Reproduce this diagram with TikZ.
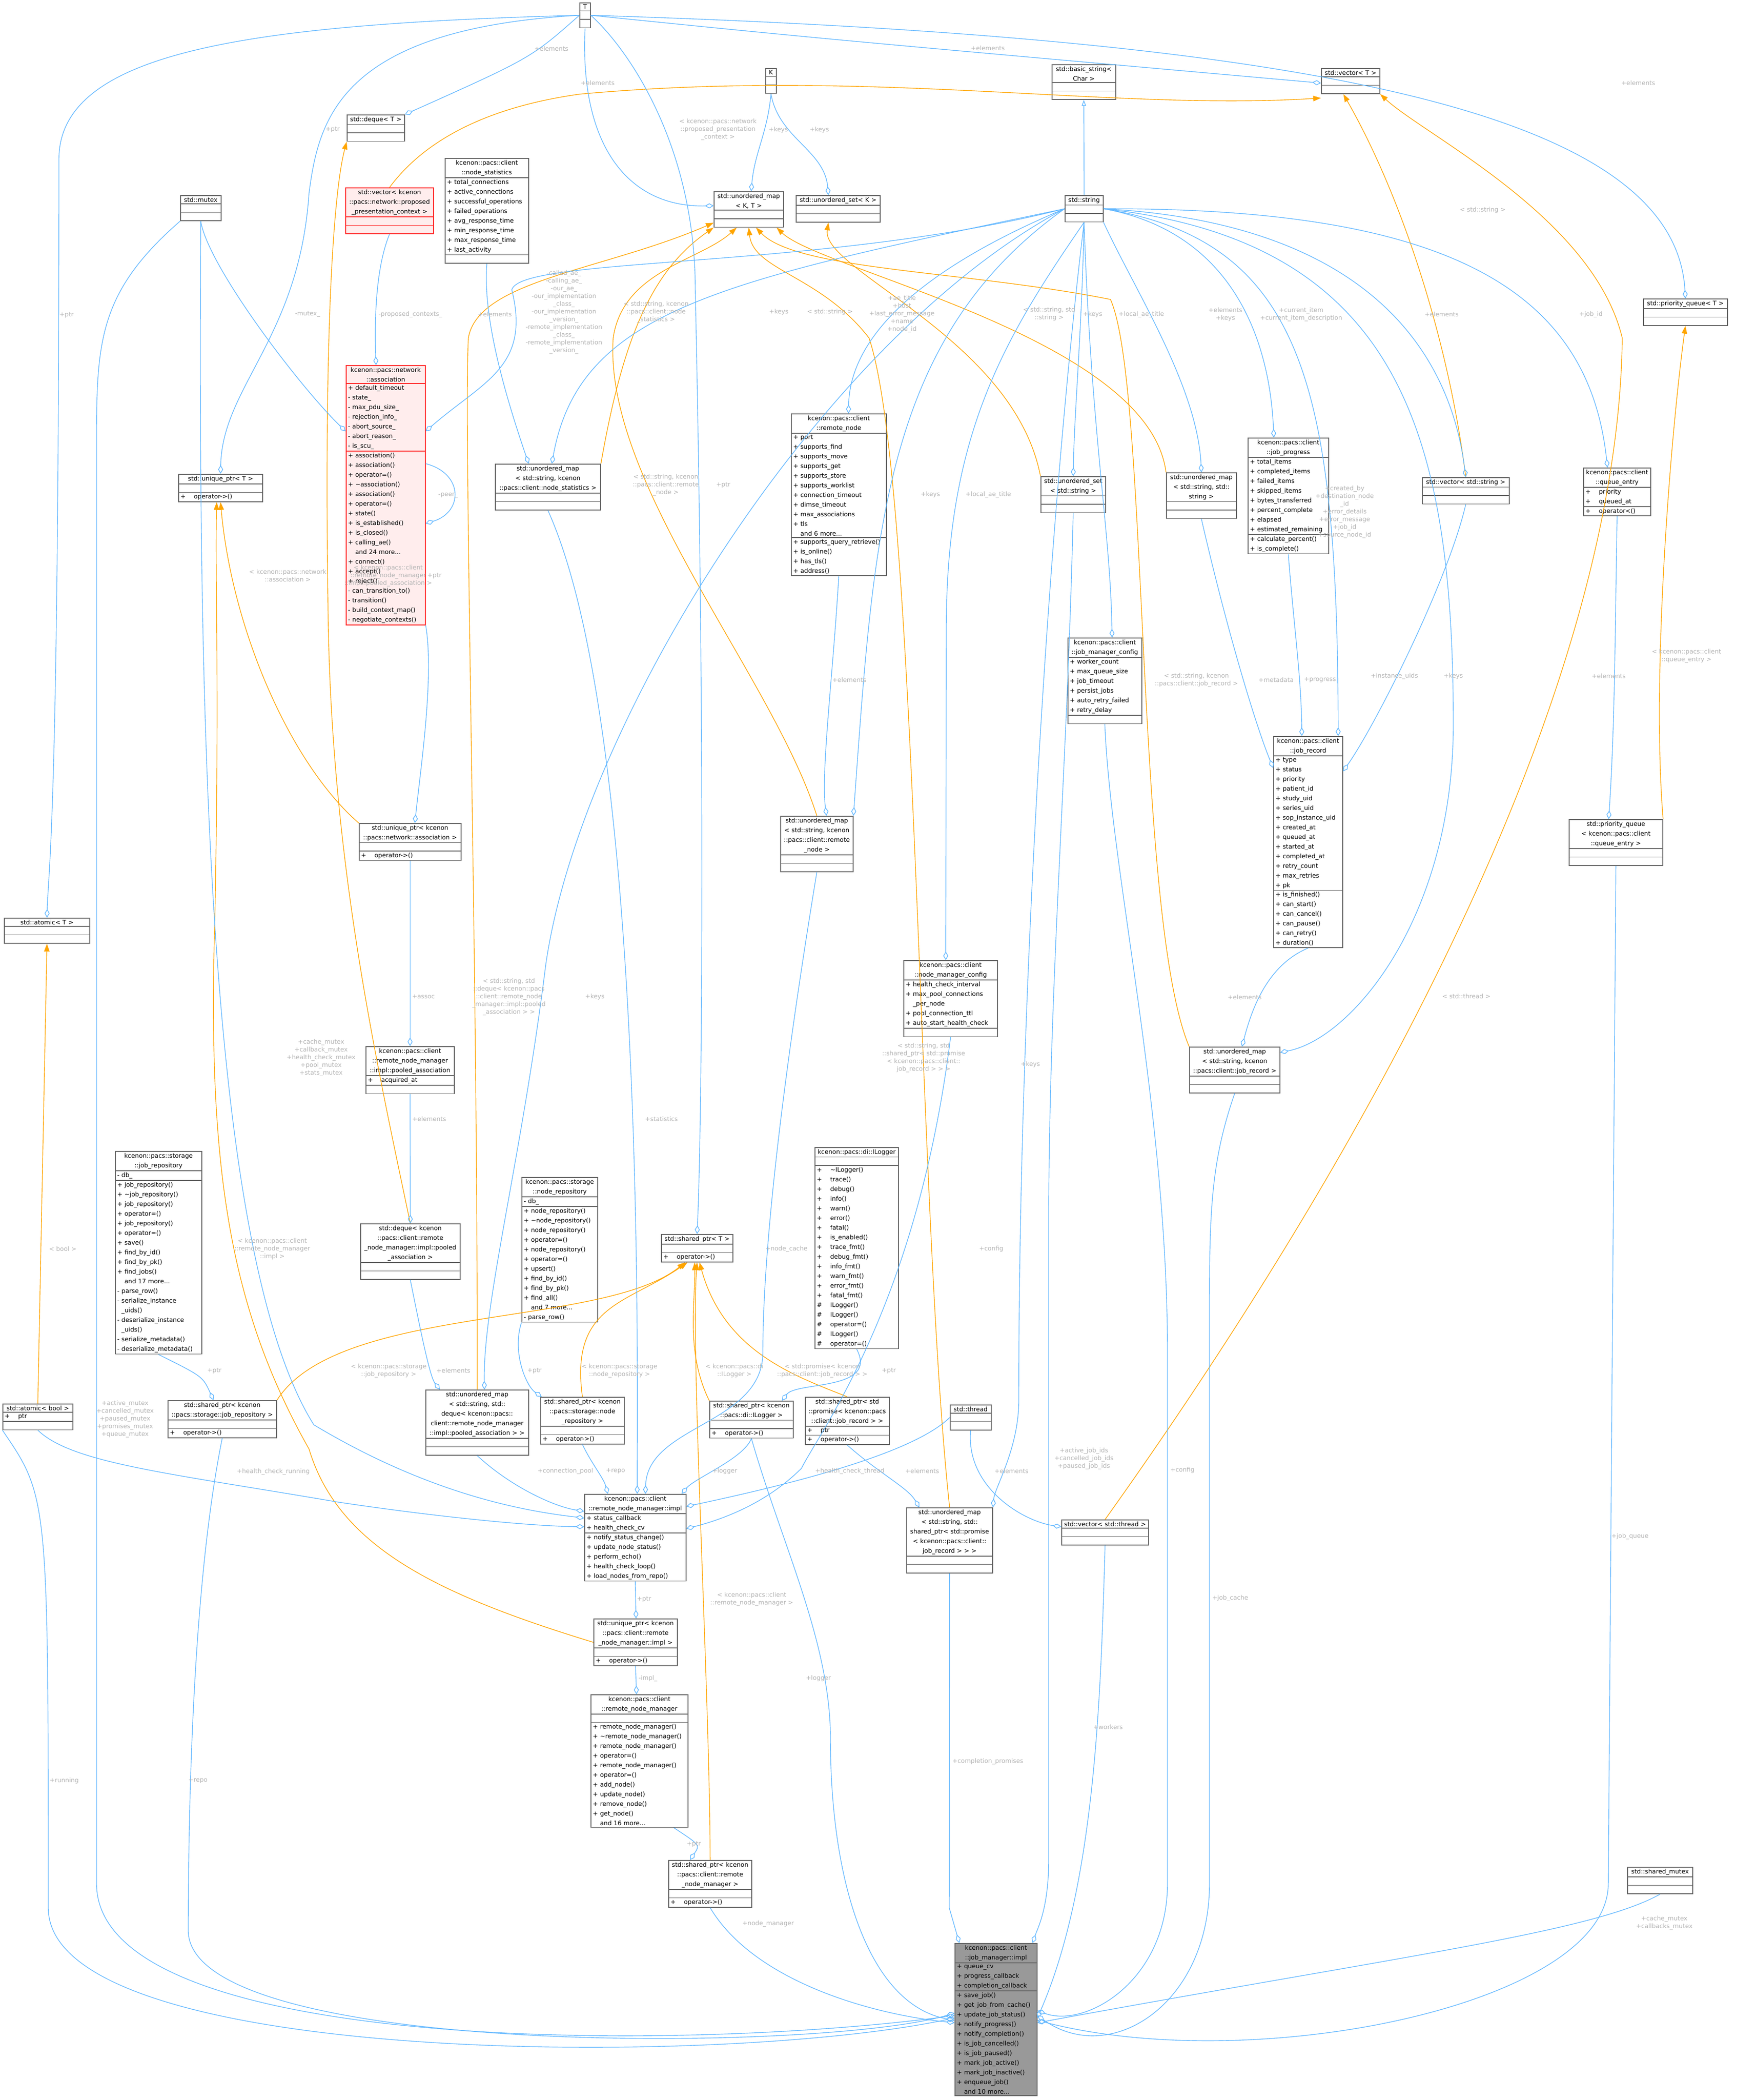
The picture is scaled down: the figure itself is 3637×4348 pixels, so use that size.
\documentclass[tikz,border=0pt]{standalone}
\usepackage{fontspec}
\setmainfont{DejaVu Sans}
\usetikzlibrary{calc,arrows.meta,shapes.multipart}
\definecolor{edgeblue}{HTML}{63B8FF}
\definecolor{edgeorange}{HTML}{FFA500}
\definecolor{boxgray}{HTML}{666666}
\definecolor{lblgray}{HTML}{B4B4B4}
\newcommand\E{\rule{0pt}{2.6pt}}
\newcommand\cls[8][]{\node[cls,#1,text width=\dimexpr #5pt/4 - 2pt\relax,minimum width=#5pt/4] (#2) at (#3,#4) {\centering #6\par\nodepart{two}#7\nodepart{three}#8};}
\tikzset{
 cls/.style={draw=boxgray,fill=white,rectangle split,rectangle split parts=3,anchor=north west,
   font=\fontsize{3.2}{5}\selectfont,inner xsep=1pt,inner ysep=0.7pt,align=left,line width=0.4pt},
 red/.style={draw=red!85!white,fill=red!7},
 dark/.style={fill=gray!80},
 mem/.style={draw=edgeblue,line width=0.35pt,-{Diamond[open,length=4.5pt,width=2.6pt]}},
 tmpl/.style={draw=edgeorange,line width=0.35pt,-{Triangle[length=4pt,width=2.8pt]}},
 inh/.style={draw=edgeblue,line width=0.35pt,-{Triangle[open,length=3pt,width=2.2pt]}},
 lbl/.style={font=\fontsize{3.2}{4}\selectfont,text=lblgray,align=center,inner sep=0pt}
}
\begin{document}
\begin{tikzpicture}[x=0.25pt,y=-0.25pt]
\useasboundingbox[fill=white] (0,0) rectangle (3637,4348);
% ---------------- nodes ----------------
\cls{NT}{1200}{5}{22}{T}{\E}{\E}
\cls{NK}{1585}{141}{22}{K}{\E}{\E}
\cls{dequeT}{718}{237}{119}{std::deque< T >}{\E}{\E}
\cls[red]{vecppc}{715}{388}{182}{std::vector< kcenon\\::pacs::network::proposed\\\_presentation\_context >}{\E}{\E}
\cls{nstat}{921}{327}{173}{kcenon::pacs::client\\::node\_statistics}{+ total\_connections\\+ active\_connections\\+ successful\_operations\\+ failed\_operations\\+ avg\_response\_time\\+ min\_response\_time\\+ max\_response\_time\\+ last\_activity}{\E}
\cls{mutex}{373}{404}{84}{std::mutex}{\E}{\E}
\cls{umapKT}{1478}{396}{144}{std::unordered\_map\\< K, T >}{\E}{\E}
\cls{usetK}{1648}{404}{174}{std::unordered\_set< K >}{\E}{\E}
\cls{bstring}{2178}{133}{132}{std::basic\_string<\\ Char >}{\E}{\E}
\cls{vecT}{2736}{141}{121}{std::vector< T >}{\E}{\E}
\cls{string}{2205}{404}{79}{std::string}{\E}{\E}
\cls{pqT}{3403}{618}{174}{std::priority\_queue< T >}{\E}{\E}
\cls[red]{assoc}{716}{756}{164}{kcenon::pacs::network\\::association}{+ default\_timeout\\- state\_\\- max\_pdu\_size\_\\- rejection\_info\_\\- abort\_source\_\\- abort\_reason\_\\- is\_scu\_}{+ association()\\+ association()\\+ operator=()\\+ \textasciitilde association()\\+ association()\\+ operator=()\\+ state()\\+ is\_established()\\+ is\_closed()\\+ calling\_ae()\\\phantom{+} and 24 more...\\+ connect()\\+ accept()\\+ reject()\\- can\_transition\_to()\\- transition()\\- build\_context\_map()\\- negotiate\_contexts()}
\cls{uptrT}{369}{981}{174}{std::unique\_ptr< T >}{\E}{+ \quad operator->()}
\cls{umapNS}{1025}{960}{218}{std::unordered\_map\\< std::string, kcenon\\::pacs::client::node\_statistics >}{\E}{\E}
\cls{rnode}{1638}{856}{197}{kcenon::pacs::client\\::remote\_node}{+ port\\+ supports\_find\\+ supports\_move\\+ supports\_get\\+ supports\_store\\+ supports\_worklist\\+ connection\_timeout\\+ dimse\_timeout\\+ max\_associations\\+ tls\\\phantom{+} and 6 more...}{+ supports\_query\_retrieve()\\+ is\_online()\\+ has\_tls()\\+ address()}
\cls{usetS}{2155}{986}{134}{std::unordered\_set\\< std::string >}{\E}{\E}
\cls{umapSS}{2415}{978}{145}{std::unordered\_map\\< std::string, std::\\string >}{\E}{\E}
\cls{jprog}{2584}{906}{167}{kcenon::pacs::client\\::job\_progress}{+ total\_items\\+ completed\_items\\+ failed\_items\\+ skipped\_items\\+ bytes\_transferred\\+ percent\_complete\\+ elapsed\\+ estimated\_remaining}{+ calculate\_percent()\\+ is\_complete()}
\cls{vecS}{2945}{988}{180}{std::vector< std::string >}{\E}{\E}
\cls{qentry}{3279}{968}{139}{kcenon::pacs::client\\::queue\_entry}{+ \quad priority\\+ \quad queued\_at}{+ \quad operator<()}
\cls{jmconf}{2211}{1320}{153}{kcenon::pacs::client\\::job\_manager\_config}{+ worker\_count\\+ max\_queue\_size\\+ job\_timeout\\+ persist\_jobs\\+ auto\_retry\_failed\\+ retry\_delay}{\E}
\cls{jrec}{2637}{1524}{143}{kcenon::pacs::client\\::job\_record}{+ type\\+ status\\+ priority\\+ patient\_id\\+ study\_uid\\+ series\_uid\\+ sop\_instance\_uid\\+ created\_at\\+ queued\_at\\+ started\_at\\+ completed\_at\\+ retry\_count\\+ max\_retries\\+ pk}{+ is\_finished()\\+ can\_start()\\+ can\_cancel()\\+ can\_pause()\\+ can\_retry()\\+ duration()}
\cls{pqQE}{3249}{1696}{194}{std::priority\_queue\\< kcenon::pacs::client\\::queue\_entry >}{\E}{\E}
\cls{uptrA}{743}{1704}{211}{std::unique\_ptr< kcenon\\::pacs::network::association >}{\E}{+ \quad operator->()}
\cls{umapRN}{1616}{1689}{150}{std::unordered\_map\\< std::string, kcenon\\::pacs::client::remote\\\_node >}{\E}{\E}
\cls{nmconf}{1871}{1988}{194}{kcenon::pacs::client\\::node\_manager\_config}{+ health\_check\_interval\\+ max\_pool\_connections\\\phantom{+ }\_per\_node\\+ pool\_connection\_ttl\\+ auto\_start\_health\_check}{\E}
\cls{pooled}{757}{2166}{183}{kcenon::pacs::client\\::remote\_node\_manager\\::impl::pooled\_association}{+ \quad acquired\_at}{\E}
\cls{umapJR}{2463}{2167}{187}{std::unordered\_map\\< std::string, kcenon\\::pacs::client::job\_record >}{\E}{\E}
\cls{atomicT}{8}{1900}{177}{std::atomic< T >}{\E}{\E}
\cls{jrepo}{238}{2383}{179}{kcenon::pacs::storage\\::job\_repository}{- db\_}{+ job\_repository()\\+ \textasciitilde job\_repository()\\+ job\_repository()\\+ operator=()\\+ job\_repository()\\+ operator=()\\+ save()\\+ find\_by\_id()\\+ find\_by\_pk()\\+ find\_jobs()\\\phantom{+} and 17 more...\\- parse\_row()\\- serialize\_instance\\\phantom{- }\_uids()\\- deserialize\_instance\\\phantom{- }\_uids()\\- serialize\_metadata()\\- deserialize\_metadata()}
\cls{nrepo}{1080}{2437}{157}{kcenon::pacs::storage\\::node\_repository}{- db\_}{+ node\_repository()\\+ \textasciitilde node\_repository()\\+ node\_repository()\\+ operator=()\\+ node\_repository()\\+ operator=()\\+ upsert()\\+ find\_by\_id()\\+ find\_by\_pk()\\+ find\_all()\\\phantom{+} and 7 more...\\- parse\_row()}
\cls{dequeP}{746}{2533}{206}{std::deque< kcenon\\::pacs::client::remote\\\_node\_manager::impl::pooled\\\_association >}{\E}{\E}
\cls{ILogger}{1687}{2375}{173}{kcenon::pacs::di::ILogger}{\E}{+ \quad \textasciitilde ILogger()\\+ \quad trace()\\+ \quad debug()\\+ \quad info()\\+ \quad warn()\\+ \quad error()\\+ \quad fatal()\\+ \quad is\_enabled()\\+ \quad trace\_fmt()\\+ \quad debug\_fmt()\\+ \quad info\_fmt()\\+ \quad warn\_fmt()\\+ \quad error\_fmt()\\+ \quad fatal\_fmt()\\\# \quad ILogger()\\\# \quad ILogger()\\\# \quad operator=()\\\# \quad ILogger()\\\# \quad operator=()}
\cls{sptrT}{1369}{2555}{148}{std::shared\_ptr< T >}{\E}{+ \quad operator->()}
\cls{umapDQ}{881}{2877}{213}{std::unordered\_map\\< std::string, std::\\deque< kcenon::pacs::\\client::remote\_node\_manager\\::impl::pooled\_association > >}{\E}{\E}
\cls{sptrNR}{1119}{2892}{173}{std::shared\_ptr< kcenon\\::pacs::storage::node\\\_repository >}{\E}{+ \quad operator->()}
\cls{sptrJR}{347}{2899}{225}{std::shared\_ptr< kcenon\\::pacs::storage::job\_repository >}{\E}{+ \quad operator->()}
\cls{atomicB}{5}{2906}{145}{std::atomic< bool >}{+ \quad ptr}{\E}
\cls{sptrIL}{1469}{2900}{173}{std::shared\_ptr< kcenon\\::pacs::di::ILogger >}{\E}{+ \quad operator->()}
\cls{sptrPR}{1667}{2892}{174}{std::shared\_ptr< std\\::promise< kcenon::pacs\\::client::job\_record > >}{+ \quad ptr}{+ \quad operator->()}
\cls{thread}{1967}{2908}{85}{std::thread}{\E}{\E}
\cls{rnmimpl}{1210}{3093}{210}{kcenon::pacs::client\\::remote\_node\_manager::impl}{+ status\_callback\\+ health\_check\_cv}{+ notify\_status\_change()\\+ update\_node\_status()\\+ perform\_echo()\\+ health\_check\_loop()\\+ load\_nodes\_from\_repo()}
\cls{umapPR}{1877}{3121}{178}{std::unordered\_map\\< std::string, std::\\shared\_ptr< std::promise\\< kcenon::pacs::client::\\job\_record > > >}{\E}{\E}
\cls{vecTh}{2198}{3146}{180}{std::vector< std::thread >}{\E}{\E}
\cls{uptrI}{1229}{3351}{173}{std::unique\_ptr< kcenon\\::pacs::client::remote\\\_node\_manager::impl >}{\E}{+ \quad operator->()}
\cls{rnm}{1223}{3508}{201}{kcenon::pacs::client\\::remote\_node\_manager}{\E}{+ remote\_node\_manager()\\+ \textasciitilde remote\_node\_manager()\\+ remote\_node\_manager()\\+ operator=()\\+ remote\_node\_manager()\\+ operator=()\\+ add\_node()\\+ update\_node()\\+ remove\_node()\\+ get\_node()\\\phantom{+} and 16 more...}
\cls{sptrRNM}{1384}{3851}{172}{std::shared\_ptr< kcenon\\::pacs::client::remote\\\_node\_manager >}{\E}{+ \quad operator->()}
\cls{shmutex}{3370}{3865}{135}{std::shared\_mutex}{\E}{\E}
\cls[dark]{jmimpl}{1977}{4023}{170}{kcenon::pacs::client\\::job\_manager::impl}{+ queue\_cv\\+ progress\_callback\\+ completion\_callback}{+ save\_job()\\+ get\_job\_from\_cache()\\+ update\_job\_status()\\+ notify\_progress()\\+ notify\_completion()\\+ is\_job\_cancelled()\\+ is\_job\_paused()\\+ mark\_job\_active()\\+ mark\_job\_inactive()\\+ enqueue\_job()\\\phantom{+} and 10 more...}
% ---------------- orange template edges ----------------
\draw[tmpl] (vecppc.north) .. controls (850,330) and (950,230) .. (1200,195) .. controls (1800,140) and (2300,230) .. ($(vecT.north west)+(0,62)$);
\draw[tmpl] (vecS.north) .. controls (3000,700) and (2900,400) .. ($(vecT.south)+(-15,0)$);
\draw[tmpl] (vecTh.north) .. controls (2750,2500) and (3350,1500) .. (3360,700) .. controls (3300,450) and (2950,280) .. (vecT.south east);
\draw[tmpl] (dequeP.north) .. controls (780,2200) and (690,1800) .. (680,1300) .. controls (670,700) and (690,400) .. (dequeT.south west);
\draw[tmpl] (uptrA.north west) .. controls (600,1580) and (480,1300) .. (uptrT.south);
\draw[tmpl] (uptrI.west) .. controls (900,3300) and (700,3200) .. (640,3000) .. controls (470,2700) and (430,2400) .. (445,1900) .. controls (455,1400) and (445,1200) .. ($(uptrT.south)+(-8,0)$);
\draw[tmpl] (atomicB.north) -- (atomicT.south);
\draw[tmpl] (umapNS.north east) .. controls (1290,700) and (1350,560) .. (umapKT.south west);
\draw[tmpl] (umapRN.north) .. controls (1600,1400) and (1250,1000) .. (1270,700) .. controls (1290,560) and (1450,540) .. ($(umapKT.south)+(-25,0)$);
\draw[tmpl] (umapDQ.north) .. controls (990,2000) and (960,900) .. (970,700) .. controls (990,580) and (1250,560) .. ($(umapKT.south west)+(0,-10)$);
\draw[tmpl] (umapSS.north west) .. controls (2380,700) and (1700,560) .. ($(umapKT.south east)+(-15,0)$);
\draw[tmpl] (umapJR.north west) .. controls (2350,1900) and (2380,800) .. (2300,620) .. controls (2000,560) and (1650,560) .. ($(umapKT.south)+(15,0)$);
\draw[tmpl] (umapPR.north) .. controls (1900,2500) and (1900,1000) .. (1800,700) .. controls (1700,570) and (1560,560) .. (umapKT.south);
\draw[tmpl] (usetS.north west) .. controls (2100,700) and (1700,560) .. ($(usetK.south)+(-20,0)$);
\draw[tmpl] (pqQE.north east) .. controls (3420,1400) and (3460,900) .. (pqT.south);
\draw[tmpl] (sptrJR.north east) .. controls (700,2700) and (1250,2750) .. ($(sptrT.south)+(-25,0)$);
\draw[tmpl] (sptrNR.north) .. controls (1180,2700) and (1300,2700) .. ($(sptrT.south)+(-20,0)$);
\draw[tmpl] (sptrIL.north west) .. controls (1420,2800) and (1440,2700) .. ($(sptrT.south)+(-5,0)$);
\draw[tmpl] (sptrPR.north) .. controls (1650,2850) and (1500,2800) .. ($(sptrT.south)+(5,0)$);
\draw[tmpl] (sptrRNM.north) .. controls (1470,3500) and (1430,2800) .. (sptrT.south);
% ---------------- blue member edges ----------------
\draw[inh] (string.north) -- (bstring.south);
\draw[mem] (NT.west) .. controls (1100,120) .. (dequeT.north east);
\draw[mem] (NT.west) .. controls (700,60) and (660,250) .. (640,400) .. controls (620,700) and (460,800) .. (uptrT.north);
\draw[mem] (NT.west) .. controls (500,50) and (122,110) .. (122,330) .. controls (122,1700) and (100,1800) .. (atomicT.north);
\draw[mem] (NT.south) .. controls (1200,300) and (1300,430) .. ($(umapKT.north west)+(0,30)$);
\draw[mem] (NT.east) .. controls (1300,100) and (1440,300) .. (1440,600) .. controls (1460,1500) and (1455,2300) .. (sptrT.north);
\draw[mem] (NT.east) .. controls (1700,80) .. ($(vecT.north west)+(0,31)$);
\draw[mem] (NT.east) .. controls (2800,80) and (3470,250) .. (pqT.north);
\draw[mem] (NK.south) to[out=-95,in=85] ($(umapKT.north)+(5,0)$);
\draw[mem] (NK.south) to[out=-80,in=95] ($(usetK.north)+(-20,0)$);
\draw[mem] (mutex.south) .. controls (430,550) and (620,800) .. ($(assoc.north west)+(0,137)$);
\draw[mem] (mutex.south) .. controls (410,1500) and (430,2600) .. (650,2950) .. controls (900,3100) and (1100,3130) .. ($(rnmimpl.north west)+(0,50)$);
\draw[mem] (mutex.south west) .. controls (210,600) and (200,700) .. (200,900) -- (200,3900) .. controls (200,4250) and (1400,4250) .. ($(jmimpl.north west)+(0,150)$);
\draw[mem] (vecppc.south) .. controls (780,550) and (775,650) .. ($(assoc.north)+(-20,0)$);
\draw[mem] (string.west) .. controls (1700,560) and (1080,530) .. (1060,600) .. controls (1100,760) and (1000,790) .. ($(assoc.north east)+(0,137)$);
\draw[mem] ($(assoc.north east)+(0,204)$) .. controls (960,980) and (960,1060) .. ($(assoc.north east)+(0,328)$);
\draw[mem] (assoc.south east) .. controls (900,1400) and (870,1600) .. ($(uptrA.north)+(10,0)$);
\draw[mem] (nstat.south) .. controls (1000,650) and (1040,800) .. ($(umapNS.north west)+(70,0)$);
\draw[mem] (string.west) .. controls (1500,580) and (1200,640) .. ($(umapNS.north west)+(118,0)$);
\draw[mem] (string.west) .. controls (1900,560) and (1760,700) .. ($(rnode.north)+(20,0)$);
\draw[mem] (string.west) .. controls (1830,700) and (1810,1100) .. (umapRN.north east);
\draw[mem] (rnode.south) .. controls (1725,1400) and (1700,1600) .. ($(umapRN.north)+(20,0)$);
\draw[mem] (string.south) .. controls (2240,700) and (2225,850) .. ($(usetS.north)+(0,0)$);
\draw[mem] (string.south east) .. controls (2350,600) and (2480,800) .. (umapSS.north);
\draw[mem] (string.east) .. controls (2550,480) and (2630,700) .. ($(jprog.north)+(-30,0)$);
\draw[mem] (string.east) .. controls (2800,460) and (3000,700) .. (vecS.north);
\draw[mem] (string.east) .. controls (3000,430) and (3290,600) .. ($(qentry.north)+(-20,0)$);
\draw[mem] (string.east) .. controls (2700,500) and (2770,800) .. ($(jrec.north east)+(-10,0)$);
\draw[mem] (string.south) .. controls (2260,900) and (2300,1100) .. ($(jmconf.north)+(15,0)$);
\draw[mem] (string.south) .. controls (2080,700) and (1960,900) .. (1960,1300) -- ($(nmconf.north)+(-10,0)$);
\draw[mem] (string.east) .. controls (2900,500) and (3010,900) .. (3010,1500) .. controls (3010,1900) and (2800,2150) .. ($(umapJR.north east)+(0,12)$);
\draw[mem] (string.west) .. controls (1700,700) and (1200,1500) .. (1130,2000) .. controls (1080,2400) and (1000,2700) .. ($(umapDQ.north)+(15,0)$);
\draw[mem] (string.south) .. controls (2180,1000) and (2110,2000) .. (2110,2900) .. controls (2110,3000) and (2060,3080) .. (umapPR.north east);
\draw[mem] (jprog.south) .. controls (2680,1300) and (2695,1400) .. ($(jrec.north)+(-13,0)$);
\draw[mem] (umapSS.south) .. controls (2540,1300) and (2600,1500) .. ($(jrec.north west)+(0,66)$);
\draw[mem] (vecS.south) .. controls (3000,1200) and (2850,1500) .. ($(jrec.north east)+(0,73)$);
\draw[mem] (jrec.south) .. controls (2620,2000) and (2590,2100) .. ($(umapJR.north)+(15,0)$);
\draw[mem] (qentry.south) .. controls (3345,1300) and (3345,1500) .. ($(pqQE.north)+(-15,0)$);
\draw[mem] (pqQE.south) -- (3331,3900) .. controls (3331,4150) and (2600,4300) .. ($(jmimpl.north east)+(0,160)$);
\draw[mem] (umapJR.south) .. controls (2510,2400) and (2505,2500) .. (2505,2700) -- (2505,3900) .. controls (2505,4150) and (2300,4280) .. ($(jmimpl.north east)+(0,150)$);
\draw[mem] (jmconf.south) .. controls (2300,1800) and (2418,2300) .. (2418,2800) -- (2418,3900) .. controls (2418,4100) and (2250,4200) .. ($(jmimpl.north east)+(0,140)$);
\draw[mem] (usetS.south) .. controls (2210,1600) and (2175,2000) .. (2172,2500) -- (2172,3850) .. controls (2172,3950) and (2150,3990) .. ($(jmimpl.north east)+(-10,0)$);
\draw[mem] (vecTh.south) .. controls (2280,3500) and (2270,3900) .. ($(jmimpl.north east)+(0,155)$);
\draw[mem] (thread.south) .. controls (2000,3080) and (2120,3150) .. ($(vecTh.north west)+(0,15)$);
\draw[mem] (thread.west) .. controls (1900,3000) and (1700,3060) .. ($(rnmimpl.north east)+(0,26)$);
\draw[mem] (umapPR.south) -- (1966,3950) -- ($(jmimpl.north west)+(10,0)$);
\draw[mem] (sptrPR.south) .. controls (1820,3050) and (1880,3080) .. ($(umapPR.north west)+(27,0)$);
\draw[mem] (ILogger.south) .. controls (1820,2880) and (1650,2860) .. ($(sptrIL.north east)+(-24,0)$);
\draw[mem] (sptrIL.south) .. controls (1540,3020) and (1440,3060) .. ($(rnmimpl.north east)+(-10,0)$);
\draw[mem] (sptrIL.south) .. controls (1620,3200) and (1720,3400) .. (1720,3600) .. controls (1720,3900) and (1800,4150) .. ($(jmimpl.north west)+(0,160)$);
\draw[mem] (nmconf.south) .. controls (1900,2700) and (1700,2960) .. (1660,3040) .. controls (1580,3120) and (1480,3150) .. ($(rnmimpl.north east)+(0,72)$);
\draw[mem] (umapRN.south) .. controls (1660,2000) and (1580,2500) .. (1580,2800) .. controls (1580,2950) and (1340,2950) .. ($(rnmimpl.north)+(21,0)$);
\draw[mem] (umapNS.south) .. controls (1335,1500) and (1320,2800) .. ($(rnmimpl.north)+(4,0)$);
\draw[mem] (sptrNR.south) .. controls (1225,3030) and (1250,3060) .. ($(rnmimpl.north west)+(49,0)$);
\draw[mem] (nrepo.south west) .. controls (1060,2800) and (1090,2870) .. ($(sptrNR.north west)+(3,0)$);
\draw[mem] (umapDQ.south) .. controls (1060,3080) and (1150,3120) .. ($(rnmimpl.north west)+(0,36)$);
\draw[mem] (dequeP.south) .. controls (870,2750) and (890,2850) .. ($(umapDQ.north west)+(30,0)$);
\draw[mem] (pooled.south) -- (dequeP.north);
\draw[mem] (uptrA.south) -- (pooled.north);
\draw[mem] (atomicB.south) .. controls (150,3030) and (350,3050) .. (700,3110) .. controls (900,3140) and (1100,3160) .. ($(rnmimpl.north west)+(0,68)$);
\draw[mem] (atomicB.south west) .. controls (100,3100) .. (100,3950) .. controls (100,4280) and (1500,4280) .. ($(jmimpl.north west)+(0,155)$);
\draw[mem] (jrepo.south) .. controls (420,2850) .. ($(sptrJR.north)+(-18,0)$);
\draw[mem] (sptrJR.south) .. controls (395,3300) and (390,3800) .. (390,4000) .. controls (400,4260) and (1700,4250) .. ($(jmimpl.north west)+(0,145)$);
\draw[mem] (rnmimpl.south) -- ($(uptrI.north)+(1,0)$);
\draw[mem] (uptrI.south) -- ($(rnm.north)+(-6,0)$);
\draw[mem] ($(rnm.south east)+(-30,0)$) .. controls (1450,3820) .. ($(sptrRNM.north west)+(45,0)$);
\draw[mem] (sptrRNM.south) .. controls (1560,4100) and (1800,4170) .. ($(jmimpl.north west)+(0,165)$);
\draw[mem] (shmutex.south) .. controls (3300,4000) and (2900,4050) .. ($(jmimpl.north east)+(0,165)$);
% ---------------- labels ----------------
\node[lbl] (l1) at (1142,101) {+elements};
\node[lbl] (l2) at (689,268) {+ptr};
\node[lbl] (l3) at (138,652) {+ptr};
\node[lbl] (l4) at (1238,172) {+elements};
\node[lbl] (l5) at (2046,100) {+elements};
\node[lbl] (l6) at (3393,172) {+elements};
\node[lbl] (l7) at (1487,268) {< kcenon::pacs::network\\::proposed\_presentation\\\_context >};
\node[lbl] (l8) at (1612,269) {+keys};
\node[lbl] (l9) at (1697,269) {+keys};
\node[lbl] (l10) at (637,651) {-mutex\_};
\node[lbl] (l11) at (850,651) {-proposed\_contexts\_};
\node[lbl] (l12) at (1025,651) {+elements};
\node[lbl] (l13) at (1168,646) {-called\_ae\_\\-calling\_ae\_\\-our\_ae\_\\-our\_implementation\\\_class\_\\-our\_implementation\\\_version\_\\-remote\_implementation\\\_class\_\\-remote\_implementation\\\_version\_};
\node[lbl] (l14) at (1359,646) {< std::string, kcenon\\::pacs::client::node\\\_statistics >};
\node[lbl] (l15) at (1613,646) {+keys};
\node[lbl] (l16) at (1719,646) {< std::string >};
\node[lbl] (l17) at (1868,650) {+ae\_title\\+host\\+last\_error\_message\\+name\\+node\_id};
\node[lbl] (l18) at (2173,650) {< std::string, std\\::string >};
\node[lbl] (l19) at (2263,651) {+keys};
\node[lbl] (l20) at (2364,651) {+local\_ae\_title};
\node[lbl] (l21) at (2538,651) {+elements\\+keys};
\node[lbl] (l22) at (2695,651) {+current\_item\\+current\_item\_description};
\node[lbl] (l23) at (2986,651) {+elements};
\node[lbl] (l24) at (3295,651) {+job\_id};
\node[lbl] (l25) at (3071,435) {< std::string >};
\node[lbl] (l26) at (928,1025) {-peer\_};
\node[lbl] (l27) at (900,1192) {+ptr};
\node[lbl] (l28) at (596,1192) {< kcenon::pacs::network\\::association >};
\node[lbl] (l29) at (804,1192) {< kcenon::pacs::client\\::remote\_node\_manager\\::impl::pooled\_association >};
\node[lbl] (l30) at (1379,1004) {< std::string, kcenon\\::pacs::client::remote\\\_node >};
\node[lbl] (l31) at (1498,1004) {+ptr};
\node[lbl] (l32) at (1927,1024) {+keys};
\node[lbl] (l33) at (2047,1024) {+local\_ae\_title};
\node[lbl] (l34) at (1759,1408) {+elements};
\node[lbl] (l35) at (2478,1408) {< std::string, kcenon\\::pacs::client::job\_record >};
\node[lbl] (l36) at (2643,1408) {+metadata};
\node[lbl] (l37) at (2734,1408) {+progress};
\node[lbl] (l38) at (2785,1060) {+created\_by\\+destination\_node\\\_id\\+error\_details\\+error\_message\\+job\_id\\+source\_node\_id};
\node[lbl] (l39) at (2888,1400) {+instance\_uids};
\node[lbl] (l40) at (3010,1400) {+keys};
\node[lbl] (l41) at (3332,1400) {+elements};
\node[lbl] (l42) at (3493,1358) {< kcenon::pacs::client\\::queue\_entry >};
\node[lbl] (l43) at (877,2064) {+assoc};
\node[lbl] (l44) at (1054,2064) {< std::string, std\\::deque< kcenon::pacs\\::client::remote\_node\\\_manager::impl::pooled\\\_association > >};
\node[lbl] (l45) at (1232,2064) {+keys};
\node[lbl] (l46) at (889,2317) {+elements};
\node[lbl] (l47) at (1370,2317) {+statistics};
\node[lbl] (l48) at (665,2190) {+cache\_mutex\\+callback\_mutex\\+health\_check\_mutex\\+pool\_mutex\\+stats\_mutex};
\node[lbl] (l49) at (1913,2190) {< std::string, std\\::shared\_ptr< std::promise\\< kcenon::pacs::client::\\job\_record > > >};
\node[lbl] (l50) at (2134,2204) {+keys};
\node[lbl] (l51) at (2578,2065) {+elements};
\node[lbl] (l52) at (3037,2063) {< std::thread >};
\node[lbl] (l53) at (130,2586) {< bool >};
\node[lbl] (l54) at (564,2586) {< kcenon::pacs::client\\::remote\_node\_manager\\::impl >};
\node[lbl] (l55) at (1629,2586) {+node\_cache};
\node[lbl] (l56) at (2053,2586) {+config};
\node[lbl] (l57) at (805,2838) {< kcenon::pacs::storage\\::job\_repository >};
\node[lbl] (l58) at (939,2838) {+elements};
\node[lbl] (l59) at (444,2838) {+ptr};
\node[lbl] (l60) at (1107,2838) {+ptr};
\node[lbl] (l61) at (1283,2838) {< kcenon::pacs::storage\\::node\_repository >};
\node[lbl] (l62) at (1521,2838) {< kcenon::pacs::di\\::ILogger >};
\node[lbl] (l63) at (1703,2838) {< std::promise< kcenon\\::pacs::client::job\_record > >};
\node[lbl] (l64) at (1841,2838) {+ptr};
\node[lbl] (l65) at (259,2938) {+active\_mutex\\+cancelled\_mutex\\+paused\_mutex\\+promises\_mutex\\+queue\_mutex};
\node[lbl] (l66) at (566,3047) {+health\_check\_running};
\node[lbl] (l67) at (1171,3046) {+connection\_pool};
\node[lbl] (l68) at (1275,3046) {+repo};
\node[lbl] (l69) at (1501,3046) {+logger};
\node[lbl] (l70) at (1760,3046) {+health\_check\_thread};
\node[lbl] (l71) at (1910,3046) {+elements};
\node[lbl] (l72) at (2095,3046) {+elements};
\node[lbl] (l73) at (2245,3020) {+active\_job\_ids\\+cancelled\_job\_ids\\+paused\_job\_ids};
\node[lbl] (l74) at (1334,3311) {+ptr};
\node[lbl] (l75) at (1557,3311) {< kcenon::pacs::client\\::remote\_node\_manager >};
\node[lbl] (l76) at (1342,3475) {-impl\_};
\node[lbl] (l77) at (1695,3475) {+logger};
\node[lbl] (l78) at (2046,3647) {+completion\_promises};
\node[lbl] (l79) at (2295,3576) {+workers};
\node[lbl] (l80) at (1437,3818) {+ptr};
\node[lbl] (l81) at (1591,3983) {+node\_manager};
\node[lbl] (l82) at (133,3687) {+running};
\node[lbl] (l83) at (410,3687) {+repo};
\node[lbl] (l84) at (2548,3309) {+job\_cache};
\node[lbl] (l85) at (2449,3044) {+config};
\node[lbl] (l86) at (3376,3181) {+job\_queue};
\node[lbl] (l87) at (3447,3981) {+cache\_mutex\\+callbacks\_mutex};
\end{tikzpicture}
\end{document}
